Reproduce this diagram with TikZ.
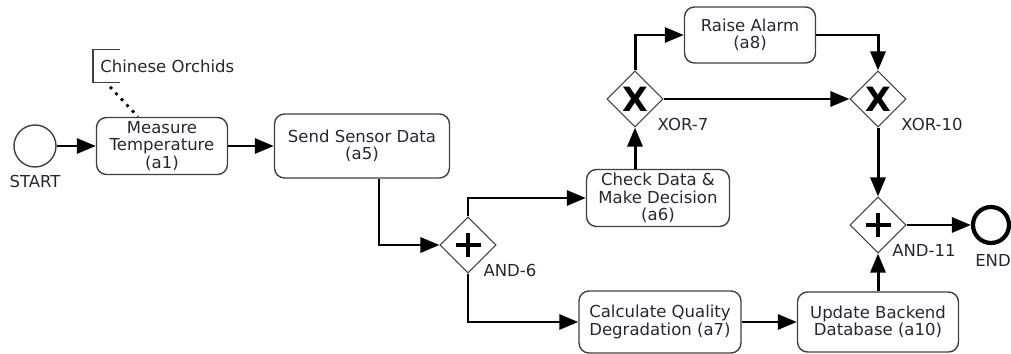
\documentclass[tikz,border=0pt]{standalone}
\usepackage{fontspec}
\setmainfont{DejaVu Sans}
\usepackage{tikz}
\usepackage{xcolor}
\usetikzlibrary{positioning, arrows.meta}
\usetikzlibrary{shapes.geometric}
\definecolor{boxline}{rgb}{0.25,0.25,0.25}
\definecolor{txt}{rgb}{0.15,0.15,0.22}
\tikzstyle{task}=[rectangle, rounded corners=0.2cm,
draw=boxline, line width=0.8pt,
align=center, text=txt,
font=\fontsize{9.4}{9.8}\selectfont,
inner sep=0pt]
\tikzstyle{gate}=[diamond, draw=boxline, line width=0.6pt,
minimum size=1.12cm, inner sep=0pt]
\tikzstyle{xorgate}=[gate, label={center:{\fontsize{19}{19}\selectfont\bfseries X}}]
\tikzstyle{andgate}=[gate, path picture={
\draw[black, line width=0.08cm] ([xshift=-0.25cm]path picture bounding box.center) -- ([xshift=0.25cm]path picture bounding box.center);
\draw[black, line width=0.08cm] ([yshift=-0.24cm]path picture bounding box.center) -- ([yshift=0.24cm]path picture bounding box.center);}]
\tikzstyle{lbl}=[text=txt, font=\fontsize{9.4}{9.8}\selectfont, inner sep=0pt]
\tikzstyle{flow}=[line width=1.7pt, -{Triangle[length=0.38cm,width=0.3cm]}]

\begin{document}
\begin{tikzpicture}[x=0.02cm, y=-0.02cm]
\useasboundingbox (0,0) rectangle (1011,354);

\node [circle, draw=boxline, line width=0.8pt, minimum size=0.84cm] (start) at (35,146) {};
\node [lbl] (startl) at (35,181) {START};
\node [circle, draw=black, line width=2.4pt, minimum size=0.72cm] (end) at (991,225) {};
\node [lbl] (endl) at (993,260) {END};

\node [task, minimum width=2.62cm, minimum height=1.14cm] (a1) at (162,146) {Measure\\Temperature\\(a1)};
\node [task, minimum width=3.5cm, minimum height=1.28cm] (a5) at (362,146) {Send Sensor Data\\(a5)};
\node [task, minimum width=2.86cm, minimum height=1.14cm] (a6) at (658,198) {Check Data \&\\Make Decision\\(a6)};
\node [task, minimum width=3.24cm, minimum height=1.24cm] (a7) at (660,322) {Calculate Quality\\Degradation (a7)};
\node [task, minimum width=2.62cm, minimum height=1.12cm] (a8) at (750,35) {Raise Alarm\\(a8)};
\node [task, minimum width=3.22cm, minimum height=1.2cm] (a10) at (878,322) {Update Backend\\Database (a10)};

\node [andgate] (and6) at (468,245) {};
\node [xorgate] (xor7) at (635,99) {};
\node [xorgate] (xor10) at (878,99) {};
\node [andgate] (and11) at (878,225) {};

\node [lbl] (and6l) at (510,270) {AND-6};
\node [lbl] (xor7l) at (683,124) {XOR-7};
\node [lbl] (xor10l) at (932,124) {XOR-10};
\node [lbl] (and11l) at (924,250) {AND-11};

\node [lbl, anchor=west, minimum height=0.66cm, inner xsep=0.14cm] (note) at (93,66) {Chinese Orchids};
\draw [boxline, line width=0.7pt] ([xshift=0.54cm]note.north west) -- (note.north west) -- (note.south west) -- ([xshift=0.54cm]note.south west);
\draw [line width=1.6pt, dash pattern=on 1.6pt off 3pt] ([shift={(17,4)}]note.south west) -- ([xshift=-0.48cm]a1.north);

\draw [flow] (start) -- (a1);
\draw [flow] (a1) -- (a5);
\draw [flow] ([xshift=0.34cm]a5.south) |- (and6.west);
\draw [flow] (and6.north) |- (a6.west);
\draw [flow] (and6.south) |- (a7.west);
\draw [flow] (a6.north -| xor7.south) -- (xor7.south);
\draw [flow] (xor7.north) |- (a8.west);
\draw [flow] (xor7.east) -- (xor10.west);
\draw [flow] (a8.east) -| (xor10.north);
\draw [flow] (xor10.south) -- (and11.north);
\draw [flow] (a7.east) -- (a10.west);
\draw [flow] (a10.north) -- (and11.south);
\draw [flow] (and11.east) -- (end);

\end{tikzpicture}
\end{document}
